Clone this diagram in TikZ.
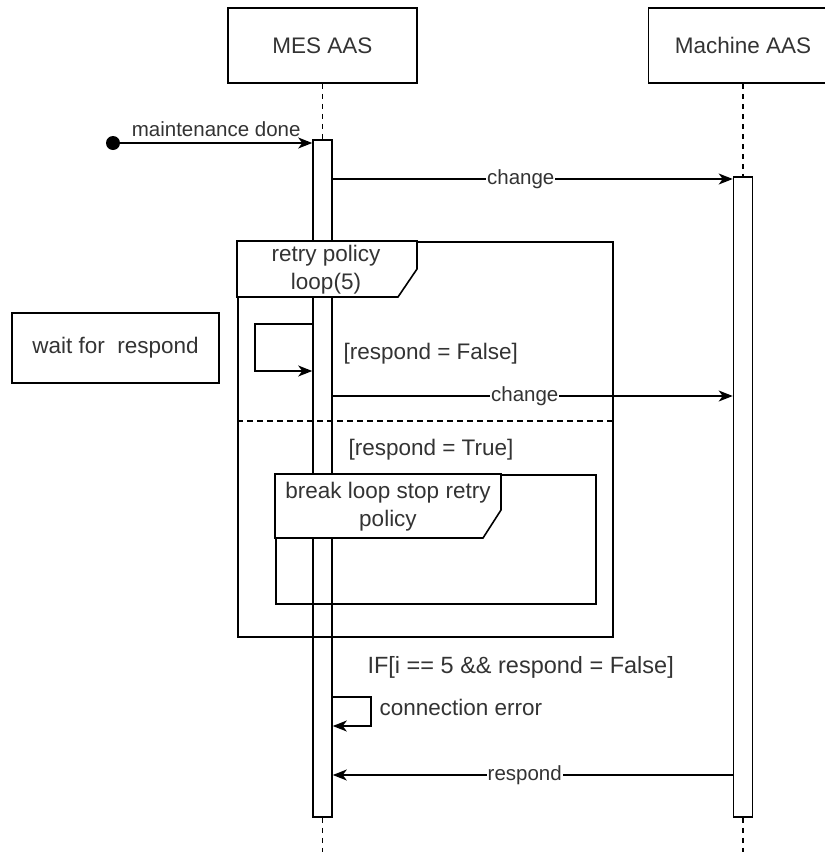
\documentclass[tikz,border=0pt]{standalone}
\usepackage{fontspec}
\setmainfont{Liberation Sans}
\usetikzlibrary{arrows.meta,positioning}

\begin{document}
\begin{tikzpicture}[x=1pt,y=-1pt,>={Stealth[length=14pt,width=11pt,inset=4pt]},
    every node/.style={text=black!80,font=\fontsize{22.5}{28}\selectfont},
    actor/.style={draw,line width=1.6pt,minimum width=189pt,minimum height=75pt},
    bar/.style={draw,line width=1.6pt,minimum width=19pt,inner sep=0pt},
    lifeline/.style={line width=1.5pt,dash pattern=on 5pt off 5pt},
    msg/.style={->,line width=1.6pt},
    frame/.style={draw,line width=1.6pt},
    tab/.style={draw,line width=1.6pt,fill=white},
    lbl/.style={fill=white,inner sep=1pt,font=\fontsize{20.5}{24}\selectfont}]
    \useasboundingbox (0,0) rectangle (825,852);
    \clip (0,0) rectangle (825,852);
    % Participants and their lifelines
    \node[actor] (mes) at (322.5,45.5) {MES AAS};
    \node[actor] (mach) at (743,45.5) {Machine AAS};
    \node[bar,minimum height=677pt] (mesbar) at (322.5,478.5) {};
    \node[bar,minimum height=640pt] (machbar) at (743,497) {};
    \coordinate (mesend) at (322.5,852);
    \coordinate (machend) at (743,852);
    \draw[lifeline] (mes.south) -- (mesbar.north);
    \draw[lifeline] (mesbar.south) -- (mesend);
    \draw[lifeline] (mach.south) -- (machbar.north);
    \draw[lifeline] (machbar.south) -- (machend);
    % Message levels
    \coordinate (y1) at (0,143);
    \coordinate (y2) at (0,179);
    \coordinate (y3) at (0,324);
    \coordinate (y4) at (0,371);
    \coordinate (y5) at (0,396);
    \coordinate (y6) at (0,421);
    \coordinate (y7) at (0,697);
    \coordinate (y8) at (0,726);
    \coordinate (y9) at (0,775);
    % Trigger
    \node[circle,fill=black,minimum size=14pt,inner sep=0pt] (start) at (113,143) {};
    \draw[msg] (start) -- (mesbar.west |- y1) node[lbl,fill=none,midway,above=5pt] {maintenance done};
    \draw[msg] (mesbar.east |- y2) -- (machbar.west |- y2) node[lbl,pos=0.47] {change};
    % Retry loop
    \node[frame,minimum width=375pt,minimum height=395pt,anchor=north west] (loop) at (237,241) {};
    \draw[tab] (loop.north west) -- ++(180,0) -- ++(0,28) -- ++(-19,28) -- ++(-161,0) -- cycle;
    \node[align=center] (looplbl) at (326,270) {retry policy\\loop(5)};
    \node[frame,minimum width=207pt,minimum height=70pt] (wait) at (115.5,348) {wait for\ \ respond};
    \draw[msg] (mesbar.west |- y3) -- ++(-57,0) |- (mesbar.west |- y4);
    \node[anchor=west] (nofalse) at (340,354) {[respond = False]};
    \draw[msg] (mesbar.east |- y5) -- (machbar.west |- y5) node[lbl,pos=0.48] {change};
    \draw[line width=1.5pt,dash pattern=on 6pt off 4pt] (loop.west |- y6) -- (loop.east |- y6);
    \node (istrue) at (431,450) {[respond = True]};
    % Break
    \node[frame,minimum width=320pt,minimum height=129pt,anchor=north west] (brk) at (275,474) {};
    \draw[tab] (brk.north west) -- ++(226,0) -- ++(0,36) -- ++(-18,28) -- ++(-208,0) -- cycle;
    \node[align=center] (brklbl) at (388,507) {break loop stop retry\\policy};
    % Failure after five tries
    \node[anchor=west,font=\fontsize{23.5}{28}\selectfont] (iferr) at (364,667) {IF[i == 5 \&\& respond = False]};
    \draw[msg] (mesbar.east |- y7) -- ++(38,0) |- (mesbar.east |- y8);
    \node[anchor=west] (connerr) at (376,707) {connection error};
    \draw[msg] (machbar.west |- y9) -- (mesbar.east |- y9) node[lbl,pos=0.52] {respond};
\end{tikzpicture}
\end{document}
